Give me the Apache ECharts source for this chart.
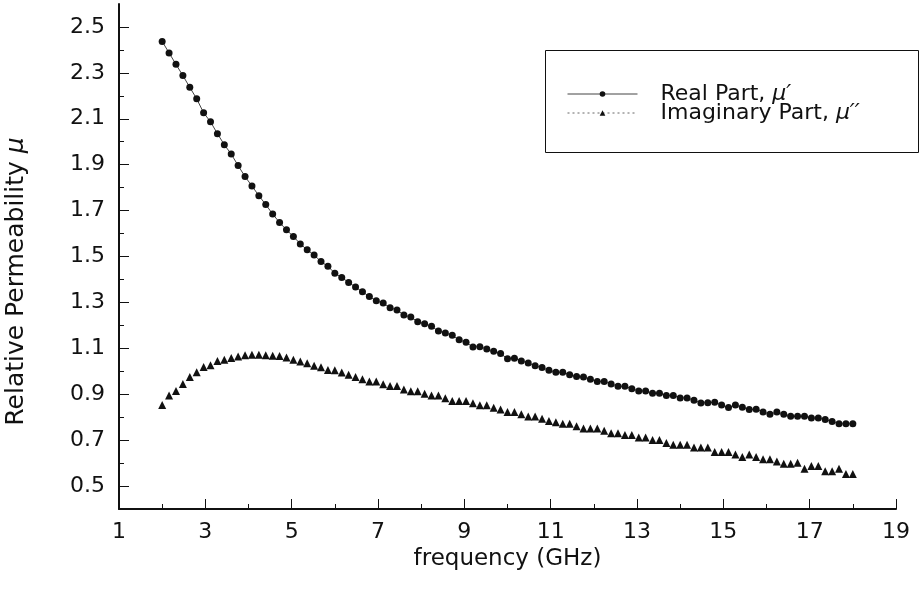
<!DOCTYPE html>
<html>
<head>
<meta charset="utf-8">
<script src="https://cdn.jsdelivr.net/npm/echarts@6/dist/echarts.min.js"></script>
<style>html,body{margin:0;padding:0;background:#fff}#c{width:922px;height:594px}</style>
</head>
<body>
<div id="c"></div>
<script>
const frequency = [2.00,2.16,2.32,2.48,2.64,2.80,2.96,3.12,3.28,3.44,3.60,3.76,3.92,4.08,4.24,4.40,4.56,4.72,4.88,5.04,5.20,5.36,5.52,5.68,5.84,6.00,6.16,6.32,6.48,6.64,6.80,6.96,7.12,7.28,7.44,7.60,7.76,7.92,8.08,8.24,8.40,8.56,8.72,8.88,9.04,9.20,9.36,9.52,9.68,9.84,10.00,10.16,10.32,10.48,10.64,10.80,10.96,11.12,11.28,11.44,11.60,11.76,11.92,12.08,12.24,12.40,12.56,12.72,12.88,13.04,13.20,13.36,13.52,13.68,13.84,14.00,14.16,14.32,14.48,14.64,14.80,14.96,15.12,15.28,15.44,15.60,15.76,15.92,16.08,16.24,16.40,16.56,16.72,16.88,17.04,17.20,17.36,17.52,17.68,17.84,18.00];
const realPart = [2.437,2.387,2.337,2.288,2.237,2.187,2.126,2.087,2.035,1.987,1.946,1.896,1.848,1.807,1.765,1.726,1.685,1.648,1.616,1.587,1.555,1.529,1.506,1.478,1.457,1.427,1.409,1.387,1.367,1.346,1.326,1.307,1.297,1.277,1.267,1.245,1.236,1.216,1.207,1.196,1.175,1.167,1.157,1.137,1.126,1.106,1.107,1.097,1.087,1.077,1.055,1.057,1.045,1.036,1.024,1.016,1.004,0.996,0.996,0.985,0.977,0.975,0.965,0.955,0.955,0.945,0.935,0.935,0.924,0.914,0.914,0.904,0.904,0.894,0.894,0.884,0.884,0.874,0.862,0.863,0.865,0.853,0.842,0.853,0.843,0.833,0.835,0.823,0.813,0.823,0.813,0.804,0.804,0.804,0.796,0.796,0.790,0.781,0.771,0.771,0.771];
const imagPart = [0.853,0.894,0.914,0.945,0.975,0.996,1.019,1.026,1.045,1.050,1.058,1.064,1.070,1.072,1.072,1.070,1.068,1.066,1.060,1.050,1.043,1.035,1.024,1.017,1.006,1.005,0.995,0.985,0.975,0.965,0.955,0.955,0.943,0.936,0.936,0.921,0.913,0.913,0.902,0.894,0.894,0.883,0.871,0.871,0.871,0.861,0.852,0.852,0.841,0.833,0.823,0.823,0.813,0.803,0.803,0.793,0.783,0.778,0.771,0.771,0.761,0.751,0.751,0.751,0.741,0.730,0.730,0.722,0.722,0.711,0.711,0.701,0.701,0.688,0.680,0.680,0.680,0.668,0.668,0.668,0.648,0.648,0.648,0.637,0.627,0.637,0.627,0.617,0.617,0.607,0.597,0.597,0.601,0.575,0.587,0.587,0.565,0.565,0.575,0.553,0.553];
const xMajorTicks = [1,3,5,7,9,11,13,15,17,19];
const xMinorTicks = [2,4,6,8,10,12,14,16,18];
const yMajorTicks = [0.5,0.7,0.9,1.1,1.3,1.5,1.7,1.9,2.1,2.3,2.5];
const yMinorTicks = [0.6,0.8,1.0,1.2,1.4,1.6,1.8,2.0,2.2,2.4];
const seriesNames = ['Real Part, μ′', 'Imaginary Part, μ′′'];

const FONT = 'DejaVu Sans';
const chart = echarts.init(document.getElementById('c'), null, {renderer: 'canvas'});
const pairs = arr => frequency.map((f, i) => [f, arr[i]]);
const axisCommon = {type: 'value', splitLine: {show: false}};
chart.setOption({
  animation: false,
  backgroundColor: '#fff',
  textStyle: {fontFamily: FONT, color: '#111'},
  grid: {left: 119, right: 26, top: 4, bottom: 85, outerBoundsMode: 'none', containLabel: false},
  graphic: [{type: 'rect', left: 543, top: 48, shape: {width: 373, height: 102}, style: {fill: 'none', stroke: '#111', lineWidth: 1}, z: 10}],
  legend: {
    orient: 'vertical', left: 567, top: 83, itemWidth: 70, itemHeight: 7, itemGap: -3, padding: 0,
    textStyle: {fontFamily: FONT, fontSize: 22, color: '#111', lineHeight: 18, padding: [0, 0, 0, 18],
      rich: {m: {fontFamily: FONT, fontStyle: 'italic', fontSize: 22, color: '#111', lineHeight: 18}}},
    formatter: name => name.replace('μ', '{m|μ').replace(/(′+)$/, '$1}'),
    data: [
      {name: seriesNames[0], itemStyle: {color: '#111'}, lineStyle: {color: '#444', width: 1, type: 'solid', opacity: 1}},
      {name: seriesNames[1], itemStyle: {color: '#111'}, lineStyle: {color: '#666', width: 1, type: [2, 3], opacity: 1}}
    ]
  },
  xAxis: [
    Object.assign({}, axisCommon, {
      min: 1, max: 19,
      name: 'frequency (GHz)', nameLocation: 'middle', nameGap: 29,
      nameTextStyle: {fontFamily: FONT, fontSize: 23, color: '#111'},
      axisLine: {show: true, onZero: false, lineStyle: {color: '#111', width: 2}},
      axisTick: {show: true, inside: true, length: 10, customValues: xMajorTicks, lineStyle: {color: '#111', width: 1}},
      axisLabel: {show: true, customValues: xMajorTicks, margin: 12, fontFamily: FONT, fontSize: 22, color: '#111'}
    }),
    Object.assign({}, axisCommon, {
      min: 1, max: 19, position: 'bottom',
      axisLine: {show: false},
      axisTick: {show: true, inside: true, length: 5, customValues: xMinorTicks, lineStyle: {color: '#111', width: 1}},
      axisLabel: {show: false}
    })
  ],
  yAxis: [
    Object.assign({}, axisCommon, {
      min: 0.4, max: 2.6,
      name: 'Relative Permeability {m|μ}', nameLocation: 'middle', nameGap: 90, nameRotate: 90,
      nameTextStyle: {fontFamily: FONT, fontSize: 25, color: '#111', padding: [0, 50, 0, 0],
        rich: {m: {fontFamily: FONT, fontStyle: 'italic', fontSize: 25, color: '#111'}}},
      axisLine: {show: true, onZero: false, lineStyle: {color: '#111', width: 2}},
      axisTick: {show: true, inside: true, length: 10, customValues: yMajorTicks, lineStyle: {color: '#111', width: 1}},
      axisLabel: {show: true, customValues: yMajorTicks, margin: 14, fontFamily: FONT, fontSize: 22, color: '#111',
        formatter: v => Number(v).toFixed(1)}
    }),
    Object.assign({}, axisCommon, {
      min: 0.4, max: 2.6, position: 'left',
      axisLine: {show: false},
      axisTick: {show: true, inside: true, length: 5, customValues: yMinorTicks, lineStyle: {color: '#111', width: 1}},
      axisLabel: {show: false}
    })
  ],
  series: [
    {
      name: seriesNames[0], type: 'line', xAxisIndex: 0, yAxisIndex: 0,
      data: pairs(realPart), symbol: 'circle', symbolSize: 7, showSymbol: true,
      itemStyle: {color: '#111'}, lineStyle: {color: '#444', width: 1}
    },
    {
      name: seriesNames[1], type: 'line', xAxisIndex: 0, yAxisIndex: 0,
      data: pairs(imagPart), symbol: 'triangle', symbolSize: 8, showSymbol: true,
      itemStyle: {color: '#111'}, lineStyle: {color: '#666', width: 1, type: [2, 3], opacity: 0}
    }
  ]
});
</script>
</body>
</html>
